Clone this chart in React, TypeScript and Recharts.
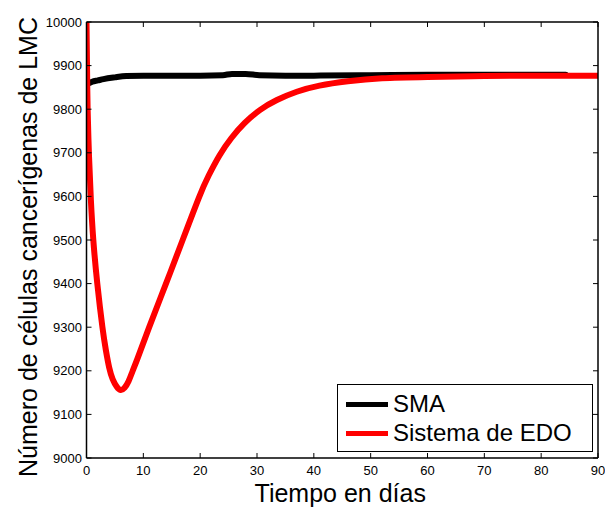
import React from 'react';
import { LineChart, Line, XAxis, YAxis, Legend } from 'recharts';

const xTicks = [0, 10, 20, 30, 40, 50, 60, 70, 80, 90];
const yTicks = [9000, 9100, 9200, 9300, 9400, 9500, 9600, 9700, 9800, 9900, 10000];

const smaT = [0.5, 1, 2, 3, 5, 7, 10, 15, 20, 24, 25.6, 28, 30.4, 35, 40, 50, 60, 70, 84.3];
const smaV = [9860, 9863, 9866, 9869, 9873, 9876, 9877, 9877, 9877, 9878, 9881, 9881, 9878, 9877, 9877, 9878, 9879, 9879, 9879];

const edoT = [0, 0.1, 0.2, 0.45, 0.77, 1.2, 1.9, 2.8, 3.4, 4.0, 4.6, 5.3, 6.0, 6.7, 7.4, 8.1, 9.0, 11.0, 13.9, 16.8, 19.8, 21.5, 23.4, 25.5, 27.8, 30.5, 33.5, 37, 41, 46, 52, 60, 70, 80, 90];
const edoV = [10000, 9890, 9800, 9690, 9592, 9500, 9400, 9300, 9248, 9207, 9181, 9164, 9156, 9161, 9176, 9199, 9229, 9299, 9397, 9496, 9598, 9648, 9694, 9734, 9768, 9798, 9821, 9840, 9854, 9864, 9871, 9874, 9876, 9877, 9877];

const smaData = smaT.map((t, i) => ({ t, v: smaV[i] }));
const edoData = edoT.map((t, i) => ({ t, v: edoV[i] }));

const FONT = '"Liberation Sans", Arial, sans-serif';
const TL = 5;

const BottomTick = (p: any) => (
  <g>
    <line x1={p.x} x2={p.x} y1={p.y} y2={p.y - TL} stroke="#000" strokeWidth={1} />
    <text x={p.x} y={p.y + 17} textAnchor="middle" fontFamily={FONT} fontSize={13} fill="#000">
      {p.payload.value}
    </text>
  </g>
);
const TopTick = (p: any) => (
  <line x1={p.x} x2={p.x} y1={p.y} y2={p.y + TL} stroke="#000" strokeWidth={1} />
);
const LeftTick = (p: any) => (
  <g>
    <line x1={p.x} x2={p.x + TL} y1={p.y} y2={p.y} stroke="#000" strokeWidth={1} />
    <text x={p.x - 4.5} y={p.y + 4.5} textAnchor="end" fontFamily={FONT} fontSize={13} fill="#000">
      {p.payload.value}
    </text>
  </g>
);
const RightTick = (p: any) => (
  <line x1={p.x} x2={p.x - TL} y1={p.y} y2={p.y} stroke="#000" strokeWidth={1} />
);

const LegendBox = (props: any) => {
  const payload = props.payload || [];
  return (
    <div
      style={{
        width: 256,
        height: 68,
        boxSizing: 'border-box',
        border: '1px solid #000',
        background: '#fff',
        position: 'relative',
        fontFamily: FONT,
        fontSize: 24,
        color: '#000',
      }}
    >
      {payload.map((e: any, i: number) => (
        <div
          key={i}
          style={{
            position: 'absolute',
            left: 8,
            top: 5 + i * 29,
            height: 28,
            display: 'flex',
            alignItems: 'center',
            whiteSpace: 'nowrap',
          }}
        >
          <span style={{ display: 'inline-block', width: 42, height: 5, background: e.color }} />
          <span style={{ marginLeft: 5, lineHeight: '28px' }}>{e.value}</span>
        </div>
      ))}
    </div>
  );
};

export default function App() {
  return (
    <div style={{ position: 'absolute', left: 0, top: 0, width: 605, height: 507, background: '#fff' }}>
      <LineChart width={605} height={507} margin={{ top: 0, right: 0, bottom: 0, left: 0 }}>
        <XAxis
          xAxisId="b"
          type="number"
          dataKey="t"
          domain={[0, 90]}
          ticks={xTicks}
          interval={0}
          height={49}
          tickSize={0}
          tickMargin={0}
          tickLine={false}
          tick={BottomTick}
          allowDataOverflow
          axisLine={{ stroke: '#000', strokeWidth: 1.5 }}
          label={(lp: any) => {
            const vb = lp.viewBox || {};
            return (
              <text x={vb.x + vb.width / 2 - 2} y={vb.y + 44} textAnchor="middle" fontFamily={FONT} fontSize={25} fill="#000">
                Tiempo en días
              </text>
            );
          }}
        />
        <XAxis
          xAxisId="t"
          orientation="top"
          type="number"
          dataKey="t"
          domain={[0, 90]}
          ticks={xTicks}
          interval={0}
          height={22}
          tickSize={0}
          tickMargin={0}
          tickLine={false}
          tick={TopTick}
          allowDataOverflow
          axisLine={{ stroke: '#000', strokeWidth: 1.5 }}
        />
        <YAxis
          yAxisId="l"
          type="number"
          domain={[9000, 10000]}
          ticks={yTicks}
          interval={0}
          width={86.5}
          tickSize={0}
          tickMargin={0}
          tickLine={false}
          tick={LeftTick}
          allowDataOverflow
          axisLine={{ stroke: '#000', strokeWidth: 1.5 }}
          label={(lp: any) => {
            const vb = lp.viewBox || {};
            const cy = vb.y + vb.height / 2 + 7;
            return (
              <text x={37} y={cy} transform={`rotate(-90 37 ${cy})`} textAnchor="middle" fontFamily={FONT} fontSize={25} fill="#000">
                Número de células cancerígenas de LMC
              </text>
            );
          }}
        />
        <YAxis
          yAxisId="r"
          orientation="right"
          type="number"
          domain={[9000, 10000]}
          ticks={yTicks}
          interval={0}
          width={7}
          tickSize={0}
          tickMargin={0}
          tickLine={false}
          tick={RightTick}
          allowDataOverflow
          axisLine={{ stroke: '#000', strokeWidth: 1.5 }}
        />
        <Line
          xAxisId="b"
          yAxisId="l"
          data={smaData}
          dataKey="v"
          name="SMA"
          type="monotone"
          stroke="#000"
          strokeWidth={6}
          strokeLinecap="round"
          dot={false}
          activeDot={false}
          isAnimationActive={false}
        />
        <Line
          xAxisId="b"
          yAxisId="l"
          data={edoData}
          dataKey="v"
          name="Sistema de EDO"
          type="natural"
          stroke="#ff0000"
          strokeWidth={6}
          strokeLinecap="round"
          dot={false}
          activeDot={false}
          isAnimationActive={false}
        />
        <Legend
          layout="vertical"
          align="center"
          verticalAlign="middle"
          content={LegendBox}
          wrapperStyle={{ left: 337, top: 384, width: 256, height: 68 }}
        />
      </LineChart>
    </div>
  );
}
